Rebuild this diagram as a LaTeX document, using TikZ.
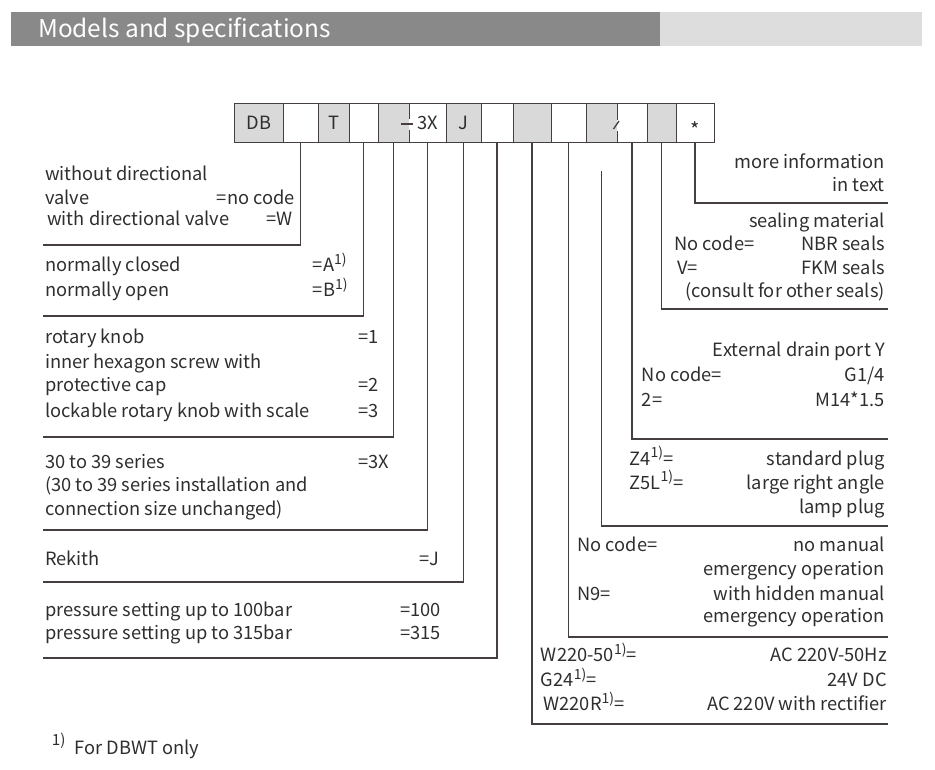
\documentclass[tikz,border=0pt]{standalone}
\usepackage{fontspec}
\setmainfont{Noto Sans CJK SC}
\definecolor{cellgray}{HTML}{D9D9D9}
\definecolor{headdark}{HTML}{898989}
\definecolor{headlight}{HTML}{DCDDDC}
\definecolor{linec}{HTML}{453F3F}
\definecolor{txtc}{HTML}{2E2E2E}
\newcommand\supx[1]{\raisebox{0.42em}{\fontsize{10.5}{10.5}\selectfont #1}}
\begin{document}
\begin{tikzpicture}[x=0.75pt,y=-0.75pt,
  txt/.style={inner sep=0pt, text=txtc, font=\fontsize{13.7}{15}\selectfont},
  lt/.style={txt, anchor=base west},
  rt/.style={txt, anchor=base east},
  cellg/.style={fill=cellgray, draw=none, minimum height=28.5pt, inner sep=0pt, text=txtc, font=\fontsize{13.7}{15}\selectfont},
  cellw/.style={cellg, fill=white},
  conn/.style={draw=linec, line width=1pt}
]
\useasboundingbox (0,0) rectangle (935,769);
% header
\fill[headdark] (11,12) rectangle (660,46);
\fill[headlight] (660,12) rectangle (922,46);
\node[lt, text=white, font=\fontsize{18.3}{20}\selectfont] (hd) at (38,37) {Models and specifications};
% cells
\node[cellg, minimum width=36pt]    (c1)  at (259,123)   {DB};
\node[cellw, minimum width=26.25pt] (c2)  at (300.5,123) {};
\node[cellg, minimum width=23.25pt] (c3)  at (333.5,123) {T};
\node[cellw, minimum width=21.75pt] (c4)  at (363.5,123) {};
\node[cellg, minimum width=23.25pt] (c5)  at (393.5,123) {};
\node[cellw, minimum width=27.75pt] (c6)  at (427.5,123) {3X};
\node[cellg, minimum width=26.25pt] (c7)  at (463.5,123) {J};
\node[cellw, minimum width=24pt]    (c8)  at (497,123)   {};
\node[cellg, minimum width=28.5pt]  (c9)  at (532,123)   {};
\node[cellw, minimum width=26.25pt] (c10) at (568.5,123) {};
\node[cellg, minimum width=23.25pt] (c11) at (601.5,123) {};
\node[cellw, minimum width=22.5pt]  (c12) at (632,123)   {};
\node[cellg, minimum width=21.75pt] (c13) at (661.5,123) {};
\node[cellw, minimum width=28.5pt]  (c14) at (695,123)   {};
\node[txt, anchor=base, font=\fontsize{15}{15}\selectfont] (star) at (695,137) {*};
% outline and dividers
\draw[conn] (c1.north west) rectangle (c14.south east);
\foreach \c in {c1,c2,c3,c4,c6,c7,c8,c9,c10,c12,c13}
  \draw[conn] (\c.north east) -- (\c.south east);
\draw[conn] (c5.north east) -- ++(0,15) (c5.south east) -- ++(0,-12);
\draw[conn] (401,124) -- (413,124);
\draw[conn] (c11.north east) -- ++(0,16) (c11.south east) -- ++(0,-11);
\draw[conn] (613.5,129) -- (619,121);
% end coordinates
\coordinate (e2) at (43,245);
\coordinate (e4) at (43,316);
\coordinate (e5) at (43,437);
\coordinate (e6) at (43,530);
\coordinate (e7) at (43,582);
\coordinate (e8) at (43,658);
\coordinate (e9) at (888,724);
\coordinate (e10) at (888,637);
\coordinate (s11) at (601.5,171);
\coordinate (e11) at (888,526);
\coordinate (e12) at (888,439);
\coordinate (e13) at (888,309);
\coordinate (e14) at (888,203);
\draw[conn] (c2.south) |- (e2);
\draw[conn] (c4.south) |- (e4);
\draw[conn] (c5.south) |- (e5);
\draw[conn] (c6.south) |- (e6);
\draw[conn] (c7.south) |- (e7);
\draw[conn] (c8.south) |- (e8);
\draw[conn] (c9.south) |- (e9);
\draw[conn] (c10.south) |- (e10);
\draw[conn] (s11) |- (e11);
\draw[conn] (c12.south) |- (e12);
\draw[conn] (c13.south) |- (e13);
\draw[conn] (c14.south) |- (e14);
% left texts
\node[lt] (l1) at (45,180.7) {without directional};
\node[lt] (l2) at (45,204) {valve};
\node[rt] (l2r) at (295,204) {=no code};
\node[lt] (l3) at (47,225) {with directional valve};
\node[rt] (l3r) at (293,225) {=W};
\node[lt] (l4) at (45,271.7) {normally closed};
\node[lt] (l4r) at (312.7,271.7) {=A\supx{1)}};
\node[lt] (l5) at (45,296.7) {normally open};
\node[lt] (l5r) at (312.7,296.7) {=B\supx{1)}};
\node[lt] (l6) at (45,343.3) {rotary knob};
\node[lt] (l6r) at (358,343.3) {=1};
\node[lt] (l7) at (45,368.3) {inner hexagon screw with};
\node[lt] (l8) at (45,391.7) {protective cap};
\node[lt] (l8r) at (358,391.7) {=2};
\node[lt] (l9) at (45,417.3) {lockable rotary knob with scale};
\node[lt] (l9r) at (358,417.3) {=3};
\node[lt] (l10) at (45,468.3) {30 to 39 series};
\node[lt] (l10r) at (358,468.3) {=3X};
\node[lt] (l11) at (45,491.7) {(30 to 39 series installation and};
\node[lt] (l12) at (45,515) {connection size unchanged)};
\node[lt] (l13) at (45,565) {Rekith};
\node[rt] (l13r) at (440,565) {=J};
\node[lt] (l14) at (45,616.7) {pressure setting up to 100bar};
\node[lt] (l14r) at (400,616.7) {=100};
\node[lt] (l15) at (45,639.3) {pressure setting up to 315bar};
\node[lt] (l15r) at (400,639.3) {=315};
% right texts
\node[rt] (r1) at (885,168.3) {more information};
\node[rt] (r2) at (885,191.7) {in text};
\node[rt] (r3) at (885,227.3) {sealing material};
\node[lt] (r4l) at (674.3,250) {No code=};
\node[rt] (r4) at (885,250) {NBR seals};
\node[lt] (r5l) at (677,274.3) {V=};
\node[rt] (r5) at (885,274.3) {FKM seals};
\node[rt] (r6) at (885,297.7) {(consult for other seals)};
\node[rt] (r7) at (885,356.7) {External drain port Y};
\node[lt] (r8l) at (641.7,381.7) {No code=};
\node[rt] (r8) at (885,381.7) {G1/4};
\node[lt] (r9l) at (641.7,406) {2=};
\node[rt] (r9) at (885,406) {M14*1.5};
\node[lt] (r10l) at (629.3,465) {Z4\supx{1)}=};
\node[rt] (r10) at (885,465) {standard plug};
\node[lt] (r11l) at (629.3,489.3) {Z5L\supx{1)}=};
\node[rt] (r11) at (885,489.3) {large right angle};
\node[rt] (r12) at (885,513.3) {lamp plug};
\node[lt] (r13l) at (577.3,551.7) {No code=};
\node[rt] (r13) at (885,551.7) {no manual};
\node[rt] (r14) at (885,575) {emergency operation};
\node[lt] (r15l) at (577.3,600) {N9=};
\node[rt] (r15) at (885,600) {with hidden manual};
\node[rt] (r16) at (885,622.7) {emergency operation};
\node[lt] (r17l) at (540.7,661.7) {W220-50\supx{1)}=};
\node[rt] (r17) at (887,661.7) {AC 220V-50Hz};
\node[lt] (r18l) at (540.7,686.7) {G24\supx{1)}=};
\node[rt] (r18) at (887,686.7) {24V DC};
\node[lt] (r19l) at (543.3,710.7) {W220R\supx{1)}=};
\node[rt] (r19) at (887,710.7) {AC 220V with rectifier};
% footnote
\node[lt, font=\fontsize{11.5}{12}\selectfont] (fn1) at (51.7,745) {1)};
\node[lt] (fn) at (74.3,754.3) {For DBWT only};
\end{tikzpicture}
\end{document}
